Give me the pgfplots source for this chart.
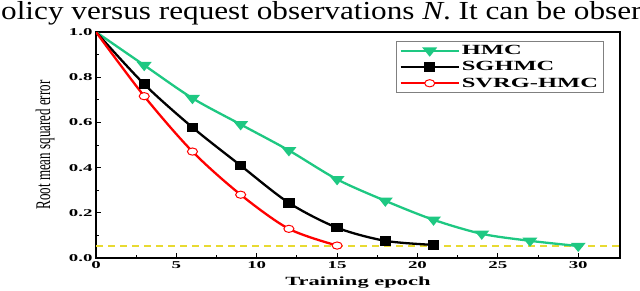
\documentclass[border=0pt]{standalone}
\usepackage{pgfplots}
\pgfplotsset{compat=1.18}
\usepackage{fontspec}
\setmainfont{Liberation Serif}
\newfontfamily\widefont[FakeStretch=1.8]{Liberation Serif}
\newfontfamily\legfont[FakeStretch=1.75]{Liberation Serif}
\newfontfamily\capfont[FakeStretch=1.2]{Liberation Serif}
\definecolor{hmc}{RGB}{30,200,130}
\definecolor{base}{RGB}{232,218,50}
\definecolor{myred}{RGB}{255,0,0}
\begin{document}
\begin{tikzpicture}[x=1pt,y=1pt]
\useasboundingbox (0,0) rectangle (640,290);
\clip (0,0) rectangle (640,290);
\node[anchor=base west, inner sep=0, font=\capfont\fontsize{26}{28}\selectfont] at (1,270) {olicy versus request observations \textit{N}. It can be obser};
\begin{axis}[
  at={(96pt,32pt)}, anchor=south west,
  scale only axis, width=524pt, height=226pt,
  xmin=0, xmax=32.6, ymin=0, ymax=1,
  xtick={0,5,...,30}, ytick={0,0.2,0.4,0.6,0.8,1.0},
  minor x tick num=1, minor y tick num=1,
  tick pos=left, tick align=inside,
  major tick length=5pt, minor tick length=3pt,
  axis line style={line width=1.3pt},
  every tick/.style={black, line width=1pt},
  /pgf/number format/assume math mode=true,
  ticklabel style={font=\widefont\bfseries\fontsize{10.5}{12}\selectfont},
  yticklabel style={/pgf/number format/.cd, fixed, fixed zerofill, precision=1},
  xlabel={Training epoch},
  xlabel style={font=\widefont\bfseries\fontsize{12.5}{14}\selectfont, at={(axis description cs:0.5,0)}, anchor=north, inner sep=0pt, yshift=-19pt},
  ylabel={\scalebox{1}[1.6]{Root mean squared error}},
  ylabel style={font=\fontsize{13}{15}\selectfont, at={(axis description cs:-0.0973,0.5)}, anchor=center},
  legend style={at={(axis description cs:0.573,0.96)}, anchor=north west, draw=gray, line width=0.6pt,
    font=\legfont\bfseries\fontsize{14}{15}\selectfont, inner ysep=2pt, row sep=1.5pt},
  legend cell align=left,
  legend image code/.code={\draw[#1, mark indices={2}] plot coordinates {(0pt,0pt) (29pt,0pt) (58pt,0pt)};},
]
\addplot[base, line width=2pt, dash pattern=on 7pt off 5pt, forget plot] coordinates {(0,0.055) (32.6,0.055)};
\addplot[hmc, line width=2.3pt, smooth, mark=triangle*, mark size=4.2pt, mark options={rotate=180, solid, xscale=1.4}, mark indices={2,3,4,5,6,7,8,9,10,11}]
  coordinates {(0,1.0) (3,0.853) (6,0.707) (9,0.591) (12,0.476) (15,0.348) (18,0.253) (21,0.169) (24,0.107) (27,0.076) (30,0.053)};
\addlegendentry{HMC}
\addplot[black, line width=2.3pt, smooth, mark=square*, mark size=3.8pt, mark options={solid, xscale=1.2, yscale=0.95}, mark indices={2,3,4,5,6,7,8}]
  coordinates {(0,1.0) (3,0.769) (6,0.578) (9,0.409) (12,0.244) (15,0.134) (18,0.076) (21,0.058)};
\addlegendentry{SGHMC}
\addplot[myred, line width=2.3pt, smooth, mark=*, mark size=3.6pt, mark options={solid, fill=white, draw=myred, line width=1pt, xscale=1.4}, mark indices={2,3,4,5,6}]
  coordinates {(0,1.0) (3,0.716) (6,0.471) (9,0.28) (12,0.129) (15,0.055)};
\addlegendentry{SVRG-HMC}
\end{axis}
\end{tikzpicture}
\end{document}
